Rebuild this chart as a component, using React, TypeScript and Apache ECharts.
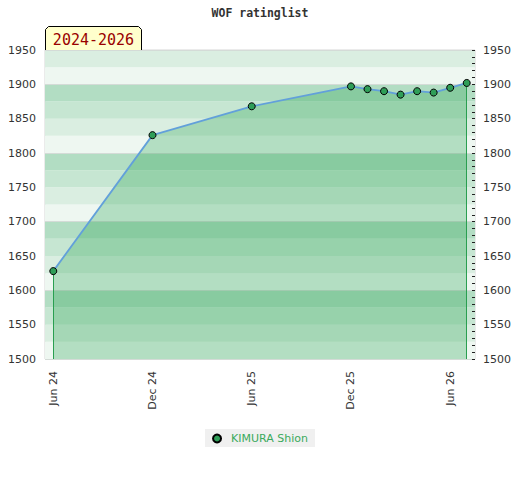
import React, { useEffect, useRef } from "react";
import * as echarts from "echarts";

const months = [
  "2024-06", "2024-07", "2024-08", "2024-09", "2024-10", "2024-11",
  "2024-12", "2025-01", "2025-02", "2025-03", "2025-04", "2025-05",
  "2025-06", "2025-07", "2025-08", "2025-09", "2025-10", "2025-11",
  "2025-12", "2026-01", "2026-02", "2026-03", "2026-04", "2026-05",
  "2026-06", "2026-07",
];
const monthNames = ["Jan", "Feb", "Mar", "Apr", "May", "Jun", "Jul", "Aug", "Sep", "Oct", "Nov", "Dec"];
const labelMonths = ["2024-06", "2024-12", "2025-06", "2025-12", "2026-06"];

const ratingDates = [
  "2024-06", "2024-12", "2025-06", "2025-12", "2026-01", "2026-02",
  "2026-03", "2026-04", "2026-05", "2026-06", "2026-07",
];
const ratings = [1628, 1826, 1868, 1897, 1893, 1890, 1885, 1890, 1888, 1895, 1902];

const yTicks = [1500, 1550, 1600, 1650, 1700, 1750, 1800, 1850, 1900, 1950];
const bandColors = ["#eef7f1", "#daeee1", "#c6e6d2", "#b2ddc3"];

const playerName = "KIMURA Shion";
const periodLabel = "2024-2026";
const titleText = "WOF ratinglist";

export default function App() {
  const ref = useRef<HTMLDivElement>(null);

  useEffect(() => {
    if (!ref.current) return;
    const chart = echarts.init(ref.current, null, { renderer: "svg" });
    const yMin = yTicks[0];
    const yMax = yTicks[yTicks.length - 1];
    const data = ratingDates.map((d, i) => [d, ratings[i]]);
    const first = data[0];
    const last = data[data.length - 1];
    const fmtMonth = (v: string) => {
      const [y, m] = v.split("-");
      return monthNames[parseInt(m, 10) - 1] + " " + y.slice(2);
    };
    const axisFont = { fontFamily: "DejaVu Sans", fontSize: 11, color: "#333" };
    const hiddenAxis = {
      type: "value",
      min: yMin,
      max: yMax,
      axisLine: { show: false },
      axisTick: { show: false },
      axisLabel: { show: false },
      splitLine: { show: false },
    };

    chart.setOption({
      animation: false,
      backgroundColor: "#fff",
      title: {
        text: titleText,
        left: "center",
        top: 2,
        textStyle: { fontFamily: "DejaVu Sans Mono", fontSize: 11.5, fontWeight: "bold", color: "#333" },
      },
      grid: {
        left: 45,
        right: 45,
        top: 50,
        bottom: 121,
        show: true,
        borderColor: "#d6d6d6",
        borderWidth: 1,
        backgroundColor: "transparent",
        outerBoundsMode: "none",
      },
      legend: {
        bottom: 33,
        left: "center",
        backgroundColor: "#f0f0f0",
        padding: [4, 7, 3, 7],
        itemWidth: 8,
        itemHeight: 8,
        icon: "circle",
        textStyle: { fontFamily: "DejaVu Sans", fontSize: 11, color: "#3aaa5c", padding: [0, 0, 0, 5] },
        data: [playerName],
      },
      xAxis: {
        type: "category",
        data: months,
        boundaryGap: true,
        axisLine: { show: false },
        axisTick: { show: false },
        splitLine: { show: false },
        axisLabel: {
          ...axisFont,
          rotate: 90,
          margin: 12,
          interval: (idx: number, val: string) => labelMonths.indexOf(val) >= 0,
          formatter: (v: string) => fmtMonth(v),
        },
      },
      yAxis: [
        {
          type: "value",
          min: yMin,
          max: yMax,
          interval: 50,
          position: "left",
          axisLine: { show: false },
          axisTick: { show: false },
          splitLine: { show: false },
          axisLabel: { ...axisFont, margin: 9, formatter: (v: number) => String(v) },
        },
        {
          type: "value",
          min: yMin,
          max: yMax,
          interval: 50,
          position: "right",
          axisLine: { show: false },
          axisTick: { show: false },
          splitLine: { show: false },
          axisLabel: { ...axisFont, margin: 8, formatter: (v: number) => String(v) },
        },
        {
          ...hiddenAxis,
          interval: 25,
          position: "left",
          splitArea: { show: true, areaStyle: { color: bandColors } },
        },
        {
          ...hiddenAxis,
          interval: 100,
          position: "left",
          splitLine: { show: true, lineStyle: { color: "#d4dbd7", width: 1 } },
        },
        {
          ...hiddenAxis,
          interval: 10,
          position: "right",
          axisTick: { show: true, inside: true, length: 3, lineStyle: { color: "#222" } },
        },
      ],
      series: [
        {
          type: "line",
          name: playerName,
          data,
          yAxisIndex: 0,
          symbol: "circle",
          symbolSize: 7,
          itemStyle: { color: "#2f9e58", borderColor: "#000", borderWidth: 1 },
          lineStyle: { color: "#62a0da", width: 1.8 },
          areaStyle: { color: "rgba(27,157,72,0.4)", origin: "start" },
          z: 3,
          markLine: {
            silent: true,
            symbol: "none",
            label: { show: false },
            lineStyle: { color: "#2ea053", width: 1, type: "solid", opacity: 1 },
            data: [
              [{ coord: [first[0], yMin] }, { coord: [first[0], first[1]] }],
              [{ coord: [last[0], yMin] }, { coord: [last[0], last[1]] }],
            ],
            z: 2,
          },
        },
      ],
      graphic: [
        {
          type: "group",
          left: 45,
          top: 26,
          z: 100,
          children: [
            {
              type: "polygon",
              shape: { points: [[0, 24], [0, 3], [3, 0], [93, 0], [96, 3], [96, 24]] },
              style: { fill: "#ffffcc", stroke: "#000", lineWidth: 1 },
            },
            {
              type: "text",
              x: 48,
              y: 13,
              style: {
                text: periodLabel,
                fill: "#990000",
                font: "15px 'DejaVu Sans Mono'",
                align: "center",
                verticalAlign: "middle",
              },
            },
          ],
        },
      ],
    });
    return () => chart.dispose();
  }, []);

  return (
    <div
      ref={ref}
      style={{ position: "absolute", left: 0, top: 0, width: 520, height: 480 }}
    />
  );
}
